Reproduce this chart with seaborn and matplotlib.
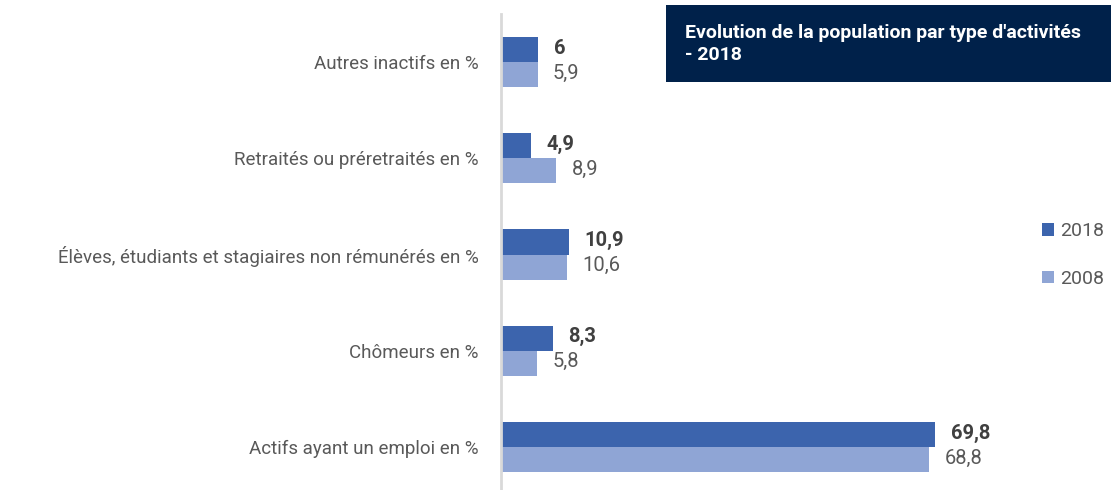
import matplotlib
matplotlib.use("Agg")
import matplotlib.pyplot as plt
import seaborn as sns
import pandas as pd
from matplotlib.patches import Rectangle, Patch

categories = ["Autres inactifs en %",
              "Retraités ou préretraités en %",
              "Élèves, étudiants et stagiaires non rémunérés en %",
              "Chômeurs en %",
              "Actifs ayant un emploi en %"]
values_2018 = [6, 4.9, 10.9, 8.3, 69.8]
values_2008 = [5.9, 8.9, 10.6, 5.8, 68.8]
series = ["2018", "2008"]
title = "Evolution de la population par type d'activités\n- 2018"

df = pd.DataFrame({
    "cat": categories * 2,
    "val": values_2018 + values_2008,
    "year": [series[0]] * len(categories) + [series[1]] * len(categories),
})

sns.set_theme(style="white")
plt.rcParams["font.family"] = ["Roboto", "DejaVu Sans"]

colors = {"2018": "#3C64AD", "2008": "#8FA5D5"}
W, H = 1111, 490
fig = plt.figure(figsize=(W / 100, H / 100), dpi=100)
ax = fig.add_axes([501 / W, -5 / H, 529 / W, 481 / H])

sns.barplot(data=df, y="cat", x="val", hue="year", hue_order=series,
            order=categories, palette=colors, orient="h", width=0.52,
            dodge=True, ax=ax, legend=False, saturation=1, linewidth=0)

ax.set_xlim(0, 85)
ax.set_ylim(4.5, -0.5)
ax.set_xlabel("")
ax.set_ylabel("")
ax.set_xticks([])
for s in ["top", "right", "bottom"]:
    ax.spines[s].set_visible(False)
ax.spines["left"].set_color("#D9D9D9")
ax.spines["left"].set_linewidth(2)
ax.tick_params(axis="y", length=0, pad=16, labelsize=13.5, labelcolor="#595959")

# value labels
for cont, yr in zip(ax.containers, series):
    bold = yr == "2018"
    for rect, v in zip(cont, values_2018 if bold else values_2008):
        lab = f"{v:g}".replace(".", ",")
        ax.annotate(lab, (rect.get_width(), rect.get_y() + rect.get_height() / 2),
                    xytext=(11, 1), textcoords="offset points", va="center", ha="left",
                    fontsize=14.5, color="#404040" if bold else "#595959",
                    fontweight="bold" if bold else "normal")

# legend
handles = [Patch(facecolor=colors[s], edgecolor="none", label=s) for s in series]
fig.legend(handles=handles, loc="center left", bbox_to_anchor=(1042 / W, 1 - 255 / H),
           frameon=False, handlelength=0.6, handleheight=0.6, handletextpad=0.35,
           labelspacing=1.5, fontsize=14, labelcolor="#595959",
           borderpad=0, borderaxespad=0)

# title box
fig.patches.append(Rectangle((666 / W, 1 - 82 / H), (W - 666) / W, 77 / H,
                             transform=fig.transFigure, facecolor="#00214A",
                             edgecolor="none", zorder=5))
fig.text(685 / W, 1 - 44 / H, title, color="white", fontsize=14, fontweight="bold",
         va="center", ha="left", zorder=6, linespacing=1.35)

fig.savefig("out.png", dpi=100)
